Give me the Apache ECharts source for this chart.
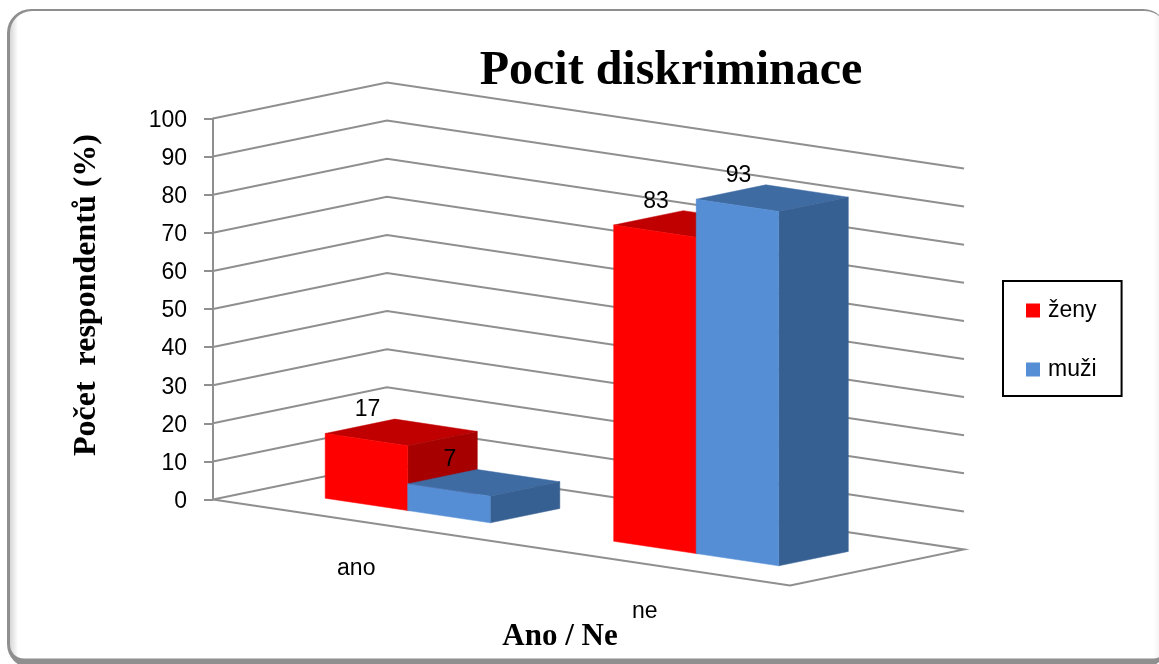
<!DOCTYPE html>
<html><head><meta charset="utf-8">
<style>html,body{margin:0;padding:0;background:#fff}#c{width:1159px;height:664px}</style>
<script src="https://cdn.jsdelivr.net/npm/echarts@6/dist/echarts.min.js"></script>
</head><body><div id="c"></div>
<script>
const categories = ['ano', 'ne'];
const zeny = [17, 83];
const muzi = [7, 93];
const gridValues = [0, 10, 20, 30, 40, 50, 60, 70, 80, 90, 100];
const chartTitle = 'Pocit diskriminace';
const xTitle = 'Ano / Ne';
const yTitle = 'Počet  respondentů (%)';

const SLOPE = 86 / 577, DEPTH_X = 174, DEPTH_Y = -36;
const D0 = 0.29, D1 = 0.69, BAR = 0.286;
const serif = '"Liberation Serif", serif', sans = '"Liberation Sans", sans-serif';
const GRID_COLOR = '#8f8f8f';

function proj(cs, p, d) {
  return [p[0] + d * DEPTH_X, p[1] + (p[0] - cs.x) * SLOPE + d * DEPTH_Y];
}
function poly(points, fill) {
  return { type: 'polygon', shape: { points }, style: { fill, stroke: fill, lineWidth: 0.5 } };
}
function barSeries(name, values, offset, cols) {
  return {
    name, type: 'custom', coordinateSystem: 'cartesian2d', z: 5, clip: false,
    itemStyle: { color: cols.front },
    data: values.map((v, i) => [i, v]),
    renderItem(params, api) {
      const cs = params.coordSys, band = api.size([1, 0])[0];
      const base = api.coord([api.value(0), 0]), top = api.coord([api.value(0), api.value(1)]);
      const xl = base[0] + offset * band, xr = xl + BAR * band;
      const P = (x, y, d) => proj(cs, [x, y], d);
      const ya = base[1], yb = top[1];
      const c = P((xl + xr) / 2, yb, D0);
      return { type: 'group', children: [
        poly([P(xl, yb, D0), P(xr, yb, D0), P(xr, yb, D1), P(xl, yb, D1)], cols.top),
        poly([P(xr, ya, D0), P(xr, ya, D1), P(xr, yb, D1), P(xr, yb, D0)], cols.side),
        poly([P(xl, ya, D0), P(xr, ya, D0), P(xr, yb, D0), P(xl, yb, D0)], cols.front),
        { type: 'text', z2: 10, style: { x: c[0] + 1, y: c[1] - 30, text: String(api.value(1)), fill: '#000',
          font: '23px ' + sans, align: 'center', verticalAlign: 'middle' } }
      ] };
    }
  };
}

const option = {
  animation: false,
  backgroundColor: '#fff',
  title: [
    { text: chartTitle, left: 666, top: 43, textAlign: 'center', textStyle: { fontFamily: serif, fontWeight: 'bold', fontSize: 48, color: '#000' } },
    { text: xTitle, left: 555, top: 616, textAlign: 'center', textStyle: { fontFamily: serif, fontWeight: 'bold', fontSize: 31, color: '#000' } }
  ],
  grid: { left: 213, width: 577, top: 118.5, height: 381 },
  xAxis: { type: 'category', data: categories, show: false },
  yAxis: {
    type: 'value', min: 0, max: 100, interval: 10, splitLine: { show: false },
    axisLine: { show: true, lineStyle: { color: GRID_COLOR, width: 2 } },
    axisTick: { show: true, length: 9, lineStyle: { color: GRID_COLOR, width: 2 } },
    axisLabel: { margin: 26, formatter: '{v|{value}}',
      rich: { v: { color: '#000', fontFamily: sans, fontSize: 23, padding: [4, 0, 0, 0] } } }
  },
  legend: {
    left: 1003, top: 281, orient: 'vertical', data: ['ženy', 'muži'], icon: 'rect',
    itemWidth: 14, itemHeight: 14, itemGap: 36, padding: [18, 25, 15, 23],
    borderColor: '#000', borderWidth: 2, backgroundColor: '#fff',
    textStyle: { fontFamily: sans, fontSize: 23, color: '#000', padding: [0, 0, 0, 3] }
  },
  graphic: [
    { type: 'rect', z: -10, silent: true, shape: { x: 7, y: 9, width: 1160, height: 659, r: 24 },
      style: { fill: '#8f8f8f' } },
    { type: 'rect', z: -9, silent: true, shape: { x: 10, y: 11, width: 1157, height: 647.5, r: [22, 22, 14, 14] },
      style: { fill: { type: 'linear', x: 0, y: 0, x2: 1, y2: 0,
        colorStops: [{ offset: 0, color: '#d6d6d6' }, { offset: 0.007, color: '#ffffff' }, { offset: 0.988, color: '#ffffff' }, { offset: 1, color: '#e6e6e6' }] } } },
    { type: 'text', z: 5, silent: true, x: 87, y: 295, rotation: Math.PI / 2,
      style: { text: yTitle, fontFamily: serif, fontWeight: 'bold', fontSize: 32, fill: '#000', align: 'center', verticalAlign: 'middle' } }
  ],
  series: [
    {
      type: 'custom', coordinateSystem: 'cartesian2d', z: 1, clip: false, silent: true,
      data: gridValues.map(v => [0, v]),
      renderItem(params, api) {
        const cs = params.coordSys, y = api.coord([0, api.value(1)])[1];
        const a = proj(cs, [cs.x, y], 0), b = proj(cs, [cs.x, y], 1), c = proj(cs, [cs.x + cs.width, y], 1);
        const points = [a, b, c];
        if (api.value(1) === 0) { points.push(proj(cs, [cs.x + cs.width, y], 0), a); }
        return { type: 'polyline', shape: { points }, style: { fill: 'none', stroke: GRID_COLOR, lineWidth: 2 } };
      }
    },
    {
      type: 'custom', coordinateSystem: 'cartesian2d', z: 2, clip: false, silent: true,
      data: categories.map((c, i) => [i, 0]),
      renderItem(params, api) {
        const cs = params.coordSys, i = api.value(0), p = api.coord([i, 0]);
        const q = proj(cs, p, 0);
        return { type: 'text', style: { x: q[0] - 1, y: q[1] + 48, text: categories[i], fill: '#000',
          font: '23px ' + sans, align: 'center', verticalAlign: 'middle' } };
      }
    },
    barSeries('ženy', zeny, -BAR, { front: '#ff0000', top: '#c00000', side: '#a60000' }),
    barSeries('muži', muzi, 0, { front: '#558ed5', top: '#3f6ba3', side: '#376092' })
  ]
};
echarts.init(document.getElementById('c'), null, { renderer: 'canvas' }).setOption(option);
</script></body></html>
